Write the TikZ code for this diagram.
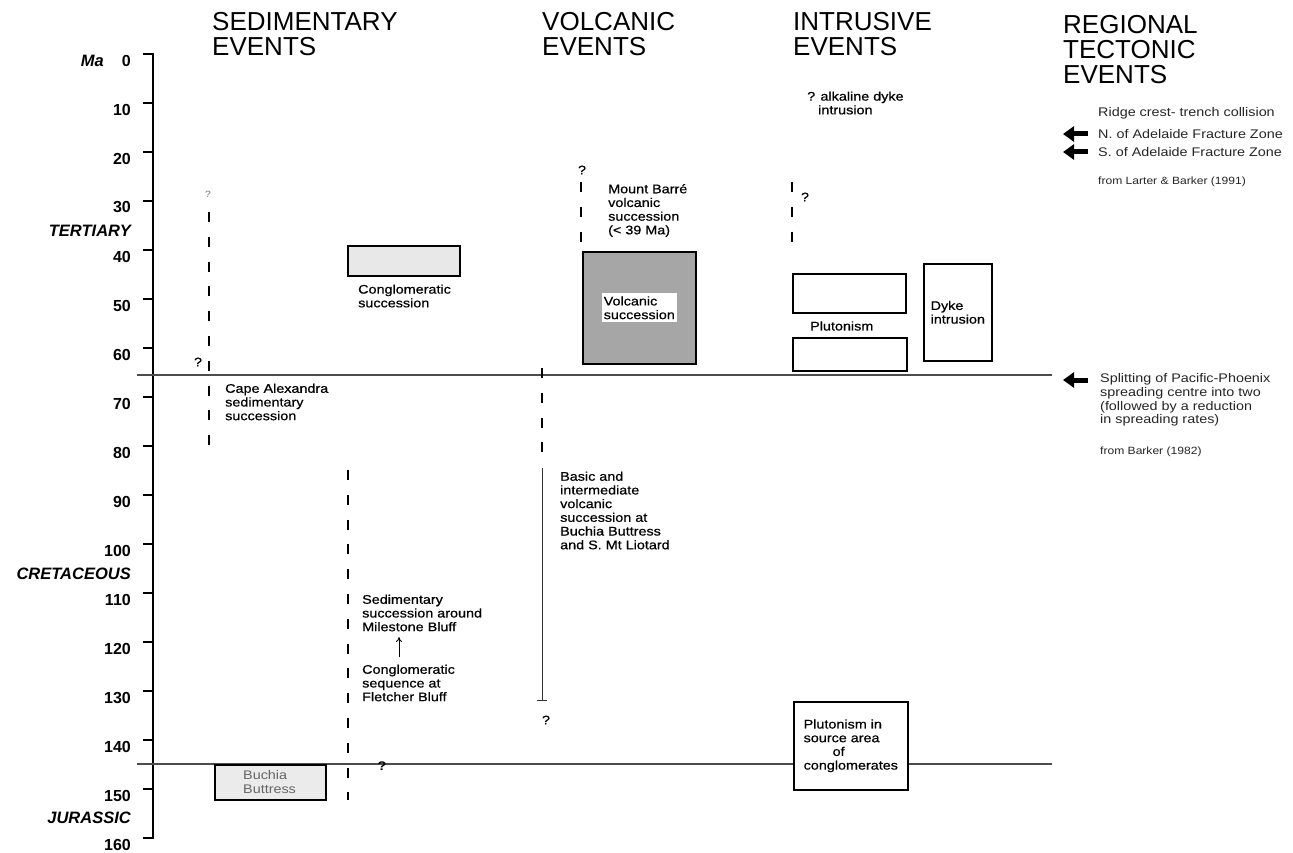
\documentclass[tikz,border=0pt]{standalone}
\usepackage{fontspec}
\setmainfont{Liberation Sans}
\newfontfamily\widesans{Liberation Sans}[FakeStretch=1.15]
\newfontfamily\midsans{Liberation Sans}[FakeStretch=1.15, FakeBold=0.6]
\usetikzlibrary{arrows.meta}

\begin{document}
\begin{tikzpicture}[x=1pt, y=-1pt,
  heading/.style={anchor=north west, inner sep=0pt, align=left, font=\fontsize{26}{25}\selectfont},
  ticklabel/.style={anchor=east, inner sep=0pt, font=\bfseries\fontsize{16}{16}\selectfont},
  period/.style={anchor=east, inner sep=0pt, font=\bfseries\itshape\fontsize{16.5}{16.5}\selectfont},
  note/.style={anchor=west, inner sep=0pt, align=left, font=\midsans\fontsize{12.5}{13.7}\selectfont},
  tectonic/.style={anchor=west, inner sep=0pt, align=left, font=\widesans\fontsize{12.5}{13.7}\selectfont, black!85},
  source/.style={anchor=west, inner sep=0pt, font=\widesans\fontsize{10.5}{12}\selectfont, black!85},
  query/.style={inner sep=0pt, font=\midsans\fontsize{12.5}{13}\selectfont},
  dashrange/.style={line width=2.6pt, dash pattern=on 10pt off 14.8pt},
  eventbox/.style={draw, line width=1.6pt, anchor=north west, align=left, font=\midsans\fontsize{12.5}{13.7}\selectfont},
  boundary/.style={black!70, line width=1.3pt},
  bigarrow/.style={line width=5pt, -{Triangle[length=11pt, width=15pt]}}
]
  \useasboundingbox (0,0) rectangle (1293,853);
  \fill[white] (0,0) rectangle (1293,853);

  % column headings
  \node[heading] (sedhead) at (212,12) {SEDIMENTARY\\EVENTS};
  \node[heading] (volchead) at (542,12) {VOLCANIC\\EVENTS};
  \node[heading] (intrhead) at (793,12) {INTRUSIVE\\EVENTS};
  \node[heading] (reghead) at (1063,15) {REGIONAL\\TECTONIC\\EVENTS};

  % time axis
  \draw[line width=1.8pt] (143,54) -- (153,54) -- (153,838) -- (143,838);
  \draw[line width=1.8pt] (143,103) -- (153,103) (143,152) -- (153,152) (143,201) -- (153,201)
    (143,250) -- (153,250) (143,299) -- (153,299) (143,348) -- (153,348) (143,397) -- (153,397)
    (143,446) -- (153,446) (143,495) -- (153,495) (143,544) -- (153,544) (143,593) -- (153,593)
    (143,642) -- (153,642) (143,691) -- (153,691) (143,740) -- (153,740) (143,789) -- (153,789);
  \node[period] (ma) at (104,61) {Ma};
  \node[ticklabel] (t0) at (131,60.5) {0};
  \node[ticklabel] (t10) at (131,109.5) {10};
  \node[ticklabel] (t20) at (131,158.5) {20};
  \node[ticklabel] (t30) at (131,207.5) {30};
  \node[ticklabel] (t40) at (131,256.5) {40};
  \node[ticklabel] (t50) at (131,305.5) {50};
  \node[ticklabel] (t60) at (131,354.5) {60};
  \node[ticklabel] (t70) at (131,403.5) {70};
  \node[ticklabel] (t80) at (131,452.5) {80};
  \node[ticklabel] (t90) at (131,501.5) {90};
  \node[ticklabel] (t100) at (131,550.5) {100};
  \node[ticklabel] (t110) at (131,599.5) {110};
  \node[ticklabel] (t120) at (131,648.5) {120};
  \node[ticklabel] (t130) at (131,697.5) {130};
  \node[ticklabel] (t140) at (131,746.5) {140};
  \node[ticklabel] (t150) at (131,795.5) {150};
  \node[ticklabel] (t160) at (131,844.5) {160};
  \node[period] (tertiary) at (131,231) {TERTIARY};
  \node[period] (cretaceous) at (131,574) {CRETACEOUS};
  \node[period] (jurassic) at (131,818) {JURASSIC};

  % period boundaries
  \draw[boundary] (137,375) -- (1052,375);
  \draw[boundary] (137,764) -- (1052,764);

  % sedimentary events
  \node[query, black!55, font=\widesans\fontsize{9}{9}\selectfont] (sedq1) at (208,194) {?};
  \draw[dashrange] (209,212) -- (209,447);
  \node[query] (sedq2) at (198,362) {?};
  \node[note] (capealex) at (225,402) {Cape Alexandra\\sedimentary\\succession};
  \node[eventbox, fill=black!9, minimum width=112pt, minimum height=30pt] (conglbox) at (347,245) {};
  \node[note] (conglsucc) at (358,296) {Conglomeratic\\succession};
  \draw[dashrange] (348,470) -- (348,800);
  \node[note] (milestone) at (362,613) {Sedimentary\\succession around\\Milestone Bluff};
  \node[note] (fletcher) at (362,683) {Conglomeratic\\sequence at\\Fletcher Bluff};
  \coordinate (upfoot) at (399,657);
  \coordinate (uphead) at (399,637);
  \draw[line width=0.9pt, -{To[length=5pt, width=6pt]}] (upfoot) -- (uphead);
  \node[query, font=\widesans\bfseries\fontsize{12.5}{13}\selectfont] (sedq3) at (382,766) {?};
  \node[eventbox, fill=black!8, minimum width=111pt, minimum height=35pt] (buchiabox) at (214,764) {};
  \node[tectonic, black!60] (buchia) at (243,782) {Buchia\\Buttress};

  % volcanic events
  \node[query] (volq1) at (582,170) {?};
  \draw[dashrange] (581,182) -- (581,245);
  \node[note] (mountbarre) at (608,210.5) {Mount Barr\'e\\volcanic\\succession\\(< 39 Ma)};
  \node[eventbox, fill=black!35, minimum width=113pt, minimum height=112pt] (volcbox) at (582,251) {};
  \node[note, anchor=center, fill=white, inner xsep=2pt, inner ysep=3pt] (volclbl) at (volcbox.center) {Volcanic\\succession};
  \draw[dashrange] (542,368) -- (542,456);
  \draw[black!80, line width=1pt] (542,468) -- (542,700);
  \draw[black!80, line width=1pt] (537,700) -- (547,700);
  \node[note] (basic) at (560,510.5) {Basic and\\intermediate\\volcanic\\succession at\\Buchia Buttress\\and S. Mt Liotard};
  \node[query] (volq2) at (546,720) {?};

  % intrusive events
  \node[note] (alkaline) at (807,103) {? alkaline dyke\\\hspace*{11pt}intrusion};
  \draw[dashrange] (792,182) -- (792,245);
  \node[query] (intq) at (805,197) {?};
  \node[eventbox, fill=white, minimum width=113pt, minimum height=39pt] (plutbox1) at (792,273) {};
  \node[note] (plutonism) at (810,326) {Plutonism};
  \node[eventbox, fill=white, minimum width=114pt, minimum height=33pt] (plutbox2) at (792,337) {};
  \node[eventbox, fill=white, minimum width=68pt, minimum height=97pt] (dykebox) at (923,263) {Dyke\\intrusion};
  \node[eventbox, fill=white, minimum width=114pt, minimum height=88pt] (plutsrc) at (793,701) {Plutonism in\\source area\\\hspace*{29pt}of\\conglomerates};

  % regional tectonic events
  \node[tectonic] (ridge) at (1098,113) {Ridge crest- trench collision};
  \node[tectonic] (nfz) at (1098,134) {N. of Adelaide Fracture Zone};
  \node[tectonic] (sfz) at (1098,152) {S. of Adelaide Fracture Zone};
  \node[source] (larter) at (1098,182) {from Larter \& Barker (1991)};
  \draw[bigarrow] ([xshift=-10pt]nfz.west) -- ++(-25,0);
  \draw[bigarrow] ([xshift=-10pt]sfz.west) -- ++(-25,0);
  \node[tectonic] (split) at (1100,400) {Splitting of Pacific-Phoenix\\spreading centre into two\\(followed by a reduction\\in spreading rates)};
  \coordinate (splitarrow) at (1088,380);
  \draw[bigarrow] (splitarrow) -- ++(-25,0);
  \node[source] (barker) at (1100,452) {from Barker (1982)};
\end{tikzpicture}
\end{document}
